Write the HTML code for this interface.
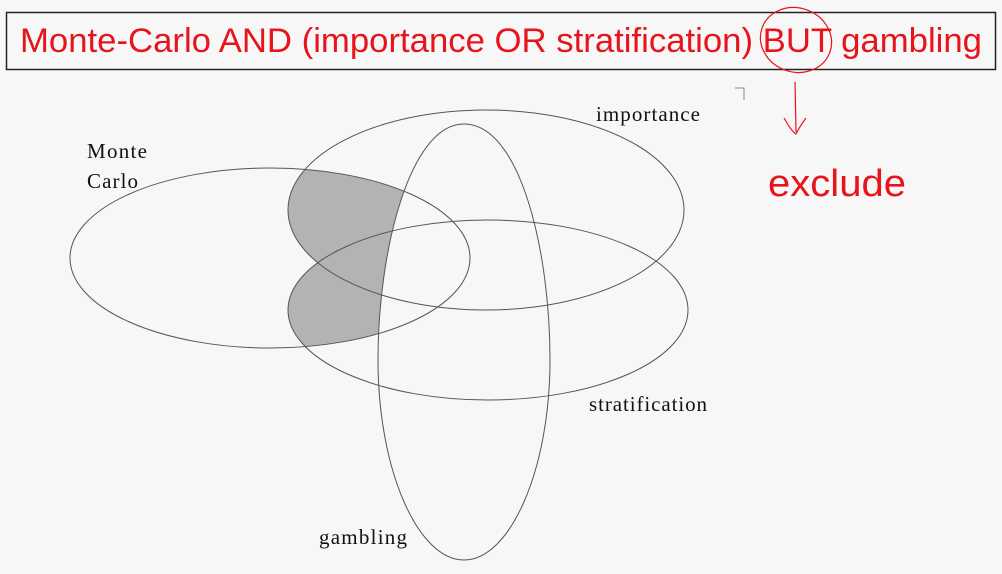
<!DOCTYPE html>
<html><head><meta charset="utf-8"><style>
html,body{margin:0;padding:0;background:#f7f7f7;}
svg{display:block;}
</style></head><body>
<svg width="1002" height="574" viewBox="0 0 1002 574" xmlns="http://www.w3.org/2000/svg">
<defs>
<clipPath id="mc"><ellipse cx="270" cy="258" rx="200" ry="90"/></clipPath>
<clipPath id="ig"><path fill-rule="evenodd" clip-rule="evenodd" d="M0 0H1002V574H0Z M464 124 C520 124 550 250 550 360 C550 470 510 560 464 560 C418 560 378 470 378 360 C378 250 410 124 464 124Z"/></clipPath>
</defs>
<rect width="1002" height="574" fill="#f7f7f7"/>
<rect x="6.5" y="12.5" width="989" height="57" fill="none" stroke="#222" stroke-width="1.5"/>
<text x="20" y="52" font-family="Liberation Sans, sans-serif" font-size="34" fill="#e8141c" textLength="962" lengthAdjust="spacingAndGlyphs">Monte-Carlo AND (importance OR stratification) BUT gambling</text>
<ellipse cx="796" cy="40" rx="36" ry="32" fill="none" stroke="#e8141c" stroke-width="1.2" transform="rotate(20 796 40)"/>
<path d="M795 82 L796 132 M784 118 Q792 132 796 134 Q800 126 806 118" fill="none" stroke="#e8141c" stroke-width="1.2"/>
<text x="768" y="196" font-family="Liberation Sans, sans-serif" font-size="38" fill="#e8141c" textLength="138" lengthAdjust="spacingAndGlyphs">exclude</text>
<path d="M735 88 H744 V100" fill="none" stroke="#888" stroke-width="1"/>
<g clip-path="url(#ig)">
<g clip-path="url(#mc)">
<ellipse cx="486" cy="210" rx="198" ry="100" fill="#b3b3b3"/>
<ellipse cx="488" cy="310" rx="200" ry="90" fill="#b3b3b3"/>
</g></g>
<g fill="none" stroke="#555" stroke-width="1">
<ellipse cx="270" cy="258" rx="200" ry="90"/>
<ellipse cx="486" cy="210" rx="198" ry="100"/>
<ellipse cx="488" cy="310" rx="200" ry="90"/>
<path d="M464 124 C520 124 550 250 550 360 C550 470 510 560 464 560 C418 560 378 470 378 360 C378 250 410 124 464 124Z"/>
</g>
<g font-family="Liberation Serif, serif" font-size="21" fill="#111" lengthAdjust="spacingAndGlyphs">
<text x="596" y="121" textLength="104">importance</text>
<text x="87" y="158" textLength="60">Monte</text>
<text x="87" y="188" textLength="51">Carlo</text>
<text x="589" y="411" textLength="118">stratification</text>
<text x="319" y="544" textLength="88">gambling</text>
</g>
</svg>
</body></html>
